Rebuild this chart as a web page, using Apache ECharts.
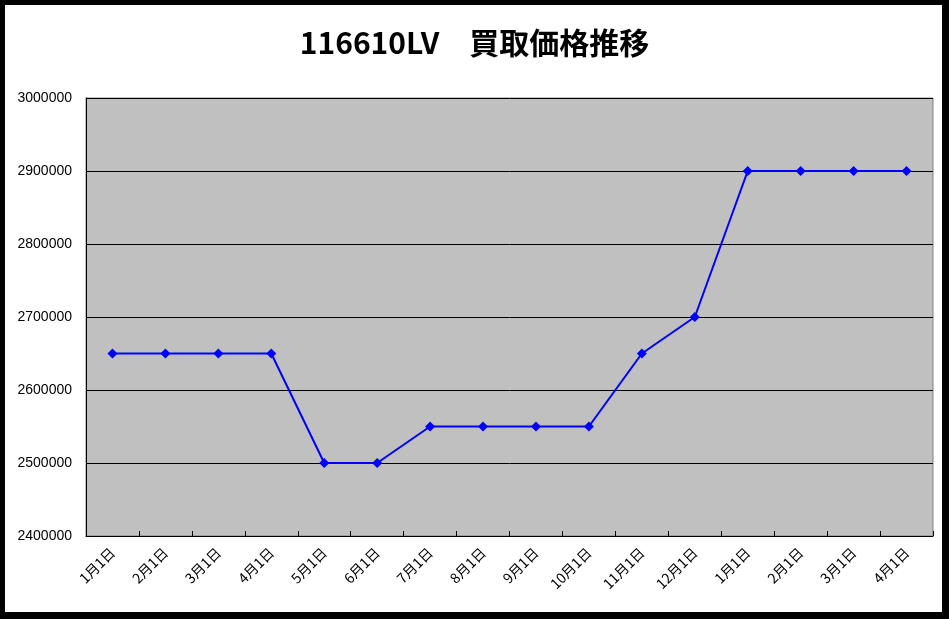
<!DOCTYPE html>
<html>
<head>
<meta charset="utf-8">
<script src="https://cdn.jsdelivr.net/npm/echarts@6/dist/echarts.min.js"></script>
<style>
  html, body { margin: 0; padding: 0; background: #fff; }
  #chart { width: 949px; height: 619px; }
</style>
</head>
<body>
<div id="chart"></div>
<script>
  // 買取価格の推移データ
  var categories = ['1月1日', '2月1日', '3月1日', '4月1日', '5月1日', '6月1日', '7月1日', '8月1日',
    '9月1日', '10月1日', '11月1日', '12月1日', '1月1日', '2月1日', '3月1日', '4月1日']
  var prices = [2650000, 2650000, 2650000, 2650000, 2500000, 2500000, 2550000, 2550000,
    2550000, 2550000, 2650000, 2700000, 2900000, 2900000, 2900000, 2900000]
  var yMin = 2400000
  var yMax = 3000000
  var yStep = 100000

  var chart = echarts.init(document.getElementById('chart'))
  chart.setOption({
    animation: false,
    title: {
      text: '116610LV　買取価格推移',
      left: 'center',
      top: 23,
      textStyle: {
        fontFamily: 'Noto Sans CJK JP',
        fontSize: 30,
        fontWeight: 'bold',
        color: '#000'
      }
    },
    graphic: [
      // 外枠
      { type: 'rect', shape: { x: 0, y: 0, width: 949, height: 5 }, style: { fill: '#000' } },
      { type: 'rect', shape: { x: 0, y: 0, width: 5, height: 619 }, style: { fill: '#000' } },
      { type: 'rect', shape: { x: 942, y: 0, width: 7, height: 619 }, style: { fill: '#000' } },
      { type: 'rect', shape: { x: 0, y: 612, width: 949, height: 7 }, style: { fill: '#000' } }
    ],
    grid: {
      left: 86,
      top: 98,
      right: 16,
      bottom: 83,
      show: true,
      backgroundColor: '#c0c0c0',
      borderColor: '#808080',
      borderWidth: 1
    },
    xAxis: {
      type: 'category',
      data: categories,
      boundaryGap: true,
      axisLine: { lineStyle: { color: '#000', width: 1 } },
      axisTick: { show: true, inside: true, length: 5, lineStyle: { color: '#000' } },
      axisLabel: {
        rotate: 45,
        margin: 14,
        fontFamily: 'Noto Sans CJK JP',
        fontSize: 14,
        color: '#000',
        interval: 0
      },
      splitLine: { show: false }
    },
    yAxis: {
      type: 'value',
      min: yMin,
      max: yMax,
      interval: yStep,
      axisLine: { show: true, lineStyle: { color: '#000', width: 1 } },
      axisTick: { show: true, inside: true, length: 4, lineStyle: { color: '#000' } },
      axisLabel: {
        margin: 14,
        fontFamily: 'Liberation Sans',
        fontSize: 14,
        color: '#000',
        formatter: function (val) {
          return String(val)
        }
      },
      splitLine: { show: true, lineStyle: { color: '#000', width: 1 } }
    },
    series: [
      {
        type: 'line',
        data: prices,
        symbol: 'diamond',
        symbolSize: 10,
        lineStyle: { color: '#0000ff', width: 2 },
        itemStyle: { color: '#0000ff' }
      }
    ]
  })
</script>
</body>
</html>
